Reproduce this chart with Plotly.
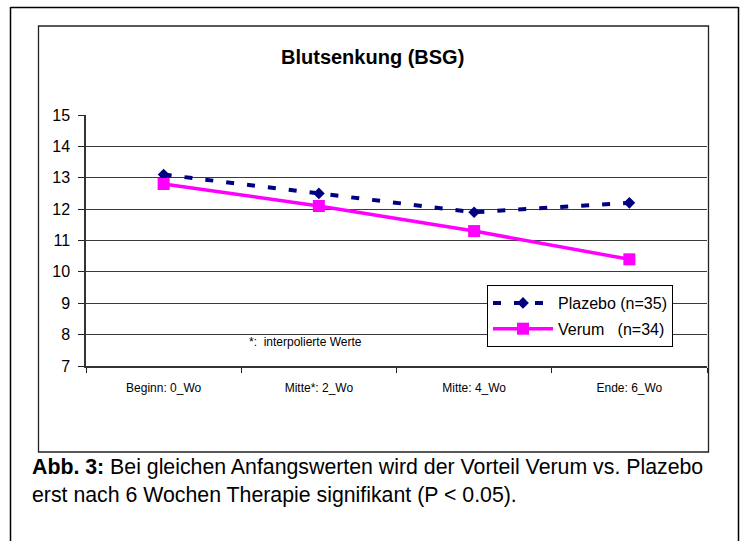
import plotly.graph_objects as go

categories = ["Beginn: 0_Wo", "Mitte*: 2_Wo", "Mitte: 4_Wo", "Ende: 6_Wo"]
plazebo = [13.1, 12.5, 11.9, 12.2]
verum = [12.8, 12.1, 11.3, 10.4]
y_ticks = [7, 8, 9, 10, 11, 12, 13, 14, 15]

W, H = 743, 541
L, R, T, B = 86, 707, 115, 366

def px(x):
    return (x - L) / (R - L)

def py(y):
    return (B - y) / (B - T)

FONT = "Liberation Sans, Arial, sans-serif"

fig = go.Figure()
fig.add_trace(go.Scatter(
    x=categories, y=plazebo, name="Plazebo (n=35)", mode="lines+markers",
    legendgroup="p",
    line=dict(color="#000080", width=4, dash="8px,13px"),
    marker=dict(symbol="diamond", size=9, color="#000080"),
))
fig.add_trace(go.Scatter(
    x=categories, y=verum, name="Verum   (n=34)", mode="lines+markers",
    legendgroup="v",
    line=dict(color="#FF00FF", width=3.5),
    marker=dict(symbol="square", size=12, color="#FF00FF"),
))

shapes = [
    # outer frame
    dict(type="line", xref="paper", yref="paper", x0=px(10.5), x1=px(10.5), y0=py(7), y1=py(545),
         line=dict(color="black", width=1.5)),
    dict(type="line", xref="paper", yref="paper", x0=px(738.5), x1=px(738.5), y0=py(7), y1=py(545),
         line=dict(color="black", width=1.5)),
    dict(type="line", xref="paper", yref="paper", x0=px(10.5), x1=px(738.5), y0=py(7.5), y1=py(7.5),
         line=dict(color="black", width=1.5)),
    # inner chart frame
    dict(type="rect", xref="paper", yref="paper", x0=px(38.5), x1=px(708.5), y0=py(26), y1=py(452),
         line=dict(color="#222222", width=1.3)),
]

annotations = [
    dict(text="<b>Blutsenkung (BSG)</b>", xref="paper", yref="paper", x=px(372.5), y=py(57),
         showarrow=False, font=dict(family=FONT, size=20, color="black"), xanchor="center", yanchor="middle"),
    dict(text="*:  interpolierte Werte", xref="paper", yref="paper", x=px(247), y=py(342),
         showarrow=False, font=dict(family=FONT, size=12, color="black"), xanchor="left", yanchor="middle"),
    dict(text="<b>Abb. 3:</b> Bei gleichen Anfangswerten wird der Vorteil Verum vs. Plazebo<br>"
              "erst nach 6 Wochen Therapie signifikant (P &lt; 0.05).",
         xref="paper", yref="paper", x=px(30), y=py(481), align="left",
         showarrow=False, font=dict(family=FONT, size=21.3, color="black"), xanchor="left", yanchor="middle"),
]

fig.update_layout(
    width=W, height=H,
    margin=dict(l=L, r=W - R, t=T, b=H - B),
    paper_bgcolor="white", plot_bgcolor="white",
    showlegend=True,
    legend=dict(x=px(487), y=py(285), xanchor="left", yanchor="top",
                bgcolor="white", bordercolor="black", borderwidth=1,
                font=dict(family=FONT, size=16, color="black"),
                itemwidth=60, tracegroupgap=2),
    shapes=shapes,
    annotations=annotations,
    xaxis=dict(type="category", categoryorder="array", categoryarray=categories,
               range=[-0.5, 3.5], autorange=False,
               tickson="boundaries", ticks="outside", ticklen=5, tickcolor="#222222",
               ticklabelstandoff=10,
               showline=True, linecolor="#333333", linewidth=1.5, showgrid=False,
               tickfont=dict(family=FONT, size=12, color="black"), fixedrange=True),
    yaxis=dict(range=[7, 15], tickvals=y_ticks, ticks="outside", ticklen=6, tickcolor="#222222",
               ticklabelstandoff=5,
               showline=True, linecolor="#333333", linewidth=1.5,
               showgrid=True, gridcolor="#3a3a3a", gridwidth=1, zeroline=False,
               tickfont=dict(family=FONT, size=16, color="black"), fixedrange=True),
)

fig.write_html("out.html", config={"displayModeBar": False},
               post_script="document.body.style.margin='0px';document.body.style.overflow='hidden';")
